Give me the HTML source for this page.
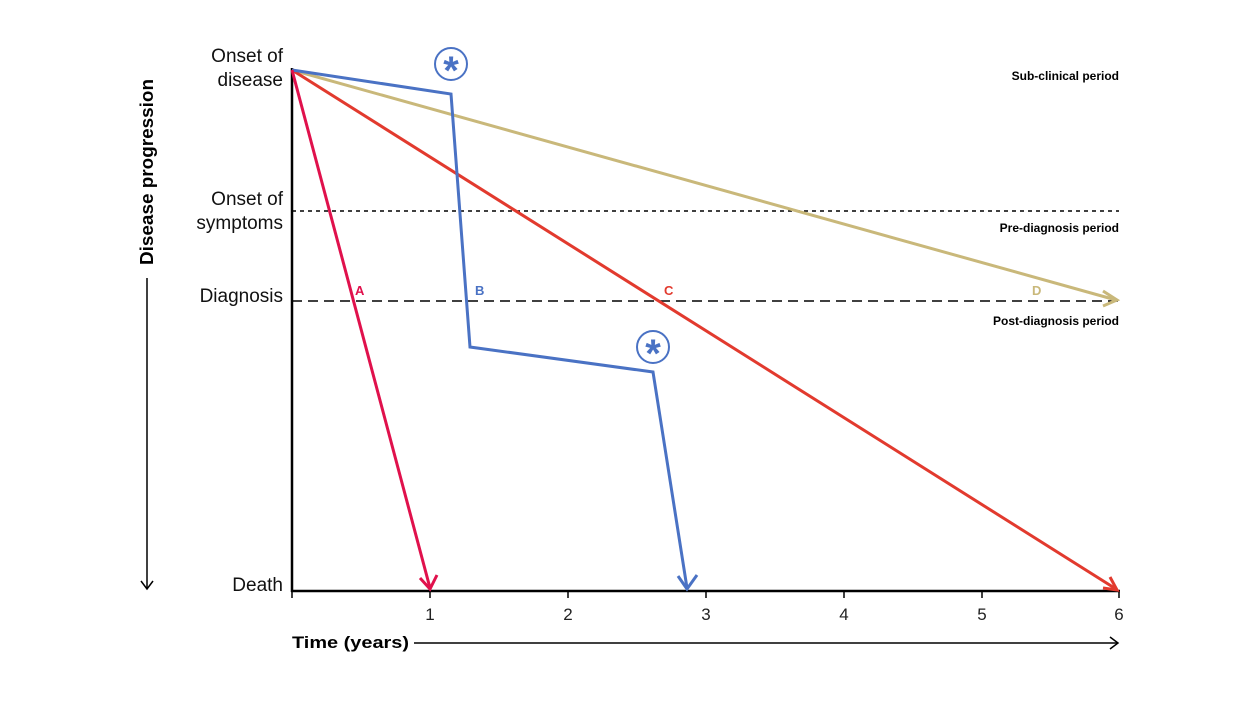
<!DOCTYPE html>
<html><head><meta charset="utf-8"><style>
body{margin:0;background:#fff;width:1260px;height:700px;overflow:hidden}
text{font-family:"Liberation Sans",sans-serif}
</style></head><body>
<svg width="1260" height="700" viewBox="0 0 1260 700" xmlns="http://www.w3.org/2000/svg">
<g fill="#111" font-size="19">
<text x="283" y="62" text-anchor="end">Onset of</text>
<text x="283" y="86" text-anchor="end">disease</text>
<text x="283" y="205" text-anchor="end">Onset of</text>
<text x="283" y="229" text-anchor="end">symptoms</text>
<text x="283" y="302" text-anchor="end">Diagnosis</text>
<text x="283" y="591" text-anchor="end">Death</text>
</g>
<g fill="#000" font-size="12" font-weight="bold" text-anchor="end">
<text x="1119" y="80">Sub-clinical period</text>
<text x="1119" y="232">Pre-diagnosis period</text>
<text x="1119" y="325">Post-diagnosis period</text>
</g>
<text x="0" y="0" transform="translate(153,172) rotate(-90)" text-anchor="middle" font-size="18" font-weight="bold" textLength="186" lengthAdjust="spacingAndGlyphs">Disease progression</text>
<line x1="147" y1="278" x2="147" y2="588" stroke="#000" stroke-width="1.5"/>
<polyline points="141,581 147,589 153,581" fill="none" stroke="#000" stroke-width="1.5"/>
<text x="292" y="648" font-size="17" font-weight="bold" textLength="117" lengthAdjust="spacingAndGlyphs">Time (years)</text>
<line x1="414" y1="643" x2="1117" y2="643" stroke="#000" stroke-width="1.5"/>
<polyline points="1110,637 1118,643 1110,649" fill="none" stroke="#000" stroke-width="1.5"/>
<line x1="292" y1="211" x2="1119" y2="211" stroke="#000" stroke-width="1.5" stroke-dasharray="4,4"/>
<line x1="292" y1="301" x2="1119" y2="301" stroke="#000" stroke-width="1.5" stroke-dasharray="10,6"/>
<line x1="292" y1="68" x2="292" y2="592" stroke="#000" stroke-width="2.5"/>
<line x1="291" y1="591" x2="1120" y2="591" stroke="#000" stroke-width="2.5"/>
<g stroke="#000" stroke-width="1.5">
<line x1="292" y1="591" x2="292" y2="598"/><line x1="430" y1="591" x2="430" y2="598"/>
<line x1="568" y1="591" x2="568" y2="598"/><line x1="706" y1="591" x2="706" y2="598"/>
<line x1="844" y1="591" x2="844" y2="598"/><line x1="982" y1="591" x2="982" y2="598"/>
<line x1="1119" y1="591" x2="1119" y2="598"/></g>
<g font-size="17" fill="#222" text-anchor="middle">
<text x="430" y="620">1</text><text x="568" y="620">2</text><text x="706" y="620">3</text>
<text x="844" y="620">4</text><text x="982" y="620">5</text><text x="1119" y="620">6</text></g>
<g fill="none" stroke-width="3" stroke-linejoin="miter">
<line x1="292" y1="70" x2="1116" y2="300" stroke="#c9b87a"/>
<polyline points="1103,291 1117,300 1103,306" stroke="#c9b87a"/>
<line x1="292" y1="70" x2="1116" y2="589" stroke="#e23a2e"/>
<polyline points="1103,588 1117,590 1110,577" stroke="#e23a2e"/>
<polyline points="292,70 451,94 470,347 653,372 687,588" stroke="#4a72c4"/>
<polyline points="678,576 687,589 697,575" stroke="#4a72c4"/>
<line x1="292" y1="70" x2="430" y2="588" stroke="#e0114c"/>
<polyline points="420,578 430,589 437,575" stroke="#e0114c"/>
</g>
<g font-size="13" font-weight="bold">
<text x="355" y="295" fill="#e0114c">A</text>
<text x="475" y="295" fill="#4a72c4">B</text>
<text x="664" y="295" fill="#e23a2e">C</text>
<text x="1032" y="295" fill="#c9b87a">D</text>
</g>
<g stroke="#4a72c4" fill="none">
<circle cx="451" cy="64" r="16" stroke-width="2"/>
<circle cx="653" cy="347" r="16" stroke-width="2"/>
</g>
<g fill="#4a72c4" font-size="40" font-weight="bold" text-anchor="middle">
<text x="451" y="84">*</text><text x="653" y="367">*</text>
</g>
</svg>
</body></html>
